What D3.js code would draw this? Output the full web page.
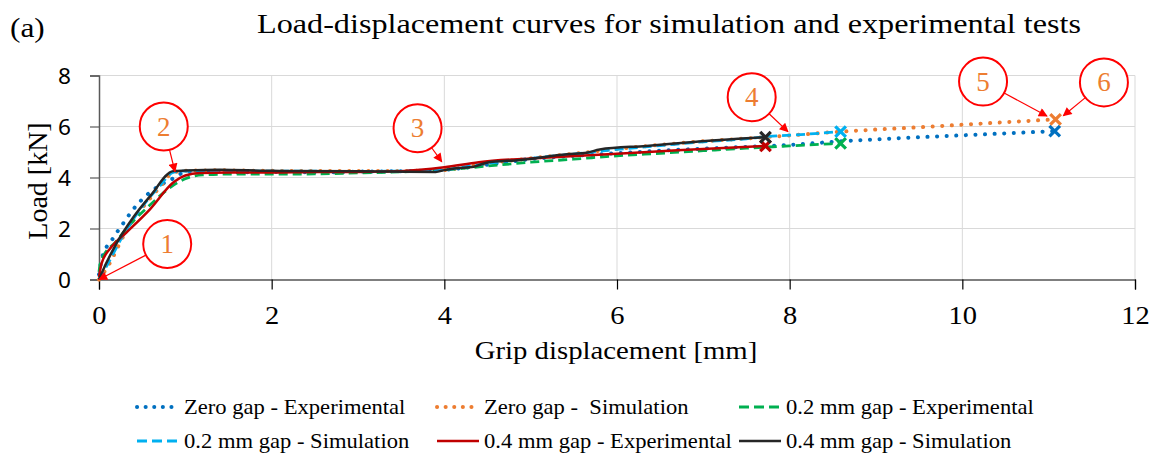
<!DOCTYPE html>
<html>
<head>
<meta charset="utf-8">
<script src="https://cdn.jsdelivr.net/npm/d3@7"></script>
<style>
  body { margin: 0; background: #fff; }
</style>
</head>
<body>
<div id="chart"></div>
<script>
// data: [grip displacement mm, load kN]
const zeroGapExp = [[0,0.2],[0.04,0.9],[0.15,1.55],[0.28,2.2],[0.42,2.85],[0.55,3.3],[0.71,3.7],[0.88,4.0],[1.0,4.22],[1.3,4.25],[1.6,4.2],[2.0,4.22],[2.5,4.2],[3.0,4.23],[3.5,4.25],[4.0,4.3],[4.5,4.5],[5.0,4.72],[5.5,4.85],[6.0,4.95],[6.5,5.05],[7.0,5.13],[7.5,5.2],[8.0,5.28],[8.6,5.42],[9.5,5.58],[10.3,5.7],[11.07,5.82]]
const zeroGapSim = [[0,0],[0.1,0.5],[0.3,1.8],[0.5,2.8],[0.7,3.6],[0.86,4.2],[1.0,4.26],[1.4,4.28],[2,4.26],[3,4.25],[3.9,4.27],[4.2,4.38],[4.5,4.55],[5,4.75],[5.5,4.93],[6,5.12],[6.5,5.28],[7,5.42],[7.5,5.53],[8,5.65],[8.6,5.8],[9.5,5.97],[10.3,6.13],[11.08,6.28]]
const gap02Exp = [[0,0.3],[0.02,0.7],[0.2,1.5],[0.4,2.3],[0.6,2.95],[0.8,3.55],[1.0,3.95],[1.2,4.1],[1.5,4.13],[2,4.13],[2.5,4.14],[3,4.18],[3.5,4.22],[4,4.3],[4.5,4.45],[5,4.6],[5.5,4.72],[6,4.85],[6.5,4.95],[7,5.05],[7.5,5.15],[8,5.24],[8.59,5.34]]
const gap02Sim = [[0,0],[0.1,0.6],[0.3,1.85],[0.5,2.85],[0.7,3.65],[0.86,4.2],[1.0,4.25],[2,4.25],[3,4.24],[3.9,4.27],[4.2,4.4],[4.5,4.55],[5,4.75],[5.5,4.92],[6,5.1],[6.5,5.25],[7,5.4],[7.5,5.52],[7.72,5.6],[8.2,5.7],[8.59,5.8]]
const gap04Exp = [[0,0.1],[0.03,0.63],[0.15,1.3],[0.32,1.85],[0.59,2.75],[0.86,3.8],[1.0,4.08],[1.17,4.18],[1.5,4.2],[2,4.2],[2.5,4.22],[3,4.22],[3.5,4.25],[4,4.4],[4.4,4.6],[5.2,4.78],[6,4.93],[6.7,5.07],[7.72,5.24]]
const gap04Sim = [[0,0],[0.03,0.24],[0.2,1.4],[0.4,2.45],[0.6,3.3],[0.86,4.25],[1.0,4.27],[1.4,4.3],[2,4.26],[3,4.25],[3.9,4.22],[4.0,4.29],[4.14,4.36],[4.34,4.42],[4.49,4.58],[4.88,4.69],[5.42,4.91],[5.65,4.97],[5.8,5.1],[6.34,5.24],[6.92,5.4],[7.5,5.54],[7.72,5.58]]

const seriesNames = ["Zero gap - Experimental", "Zero gap -  Simulation", "0.2 mm gap - Experimental",
                     "0.2 mm gap - Simulation", "0.4 mm gap - Experimental", "0.4 mm gap - Simulation"]
const xTicks = [0, 2, 4, 6, 8, 10, 12]
const yTicks = [0, 2, 4, 6, 8]

// numbered callouts: circle centre and arrow tip, in data units
const callouts = [
  {label: "1", cx: 0.79, cy: 1.39, tx: 0, ty: 0},
  {label: "2", cx: 0.75, cy: 6.0, tx: 0.88, ty: 4.23},
  {label: "3", cx: 3.69, cy: 5.93, tx: 3.97, ty: 4.62},
  {label: "4", cx: 7.56, cy: 7.15, tx: 7.98, ty: 5.8},
  {label: "5", cx: 10.24, cy: 7.76, tx: 10.98, ty: 6.41},
  {label: "6", cx: 11.64, cy: 7.73, tx: 11.17, ty: 6.42}
]

const width = 1158
const height = 457
const margin = {left: 99, right: 23, top: 75.5, bottom: 177.5}
const serif = "'Liberation Serif', 'Times New Roman', serif"
const stretch = 1.14 // the picture's text is a bit wider than tall

const svg = d3.select("#chart")
  .append("svg")
    .attr("width", width)
    .attr("height", height)

const x = d3.scaleLinear().domain([0, 12]).range([margin.left, width - margin.right])
const y = d3.scaleLinear().domain([0, 8]).range([height - margin.bottom, margin.top])

// put a text at x,y and widen it
function widen(sel, sx) {
  sel.each(function() {
    const t = d3.select(this)
    const tx = +t.attr("x") || 0, ty = +t.attr("y") || 0
    t.attr("x", 0).attr("y", 0)
     .attr("transform", `translate(${tx},${ty}) scale(${sx},1)`)
  })
}

// line styles per series
const styles = [
  {color: "#0070C0", dash: "0.1 9.5", cap: "round", w: 4},
  {color: "#ED7D31", dash: "0.1 9.5", cap: "round", w: 4},
  {color: "#00B050", dash: "9 5", cap: "butt", w: 2.8},
  {color: "#00B0F0", dash: "9 5", cap: "butt", w: 2.8},
  {color: "#C00000", dash: null, cap: "butt", w: 2.5},
  {color: "#262626", dash: null, cap: "butt", w: 2.5}
]
const allSeries = [zeroGapExp, zeroGapSim, gap02Exp, gap02Sim, gap04Exp, gap04Sim]

// gridlines
svg.append("g")
  .selectAll("line")
  .data(yTicks.slice(1))
  .join("line")
    .attr("x1", x(0)).attr("x2", x(12))
    .attr("y1", d => y(d)).attr("y2", d => y(d))
    .attr("stroke", "#d9d9d9").attr("stroke-width", 1)
svg.append("g")
  .selectAll("line")
  .data(xTicks.slice(1))
  .join("line")
    .attr("x1", d => x(d)).attr("x2", d => x(d))
    .attr("y1", y(0)).attr("y2", y(8))
    .attr("stroke", "#d9d9d9").attr("stroke-width", 1)

// axes
const xAxis = svg.append("g")
  .attr("transform", `translate(0,${y(0)})`)
  .call(d3.axisBottom(x).tickValues(xTicks).tickSize(10).tickPadding(18).tickFormat(d3.format("d")))
xAxis.select(".domain").attr("stroke", "#000").attr("stroke-width", 1.2)
xAxis.selectAll(".tick line").attr("stroke", "#000").attr("stroke-width", 1.2)
xAxis.selectAll("text")
  .attr("font-family", serif).attr("font-size", 25).attr("fill", "#000")
  .attr("dy", "0.66em")
  .call(widen, stretch)

const yAxis = svg.append("g")
  .attr("transform", `translate(${x(0)},0)`)
  .call(d3.axisLeft(y).tickValues(yTicks).tickSize(9).tickPadding(19).tickFormat(d3.format("d")))
yAxis.select(".domain").attr("stroke", "#595959").attr("stroke-width", 1.5)
yAxis.selectAll(".tick line").attr("stroke", "#595959").attr("stroke-width", 1.2)
yAxis.selectAll("text")
  .attr("font-family", "'Noto Sans', 'Open Sans', sans-serif").attr("font-size", 21).attr("fill", "#000")
  .attr("dy", "0.4em")
  .call(widen, 1.08)

// the curves
const line = d3.line()
  .x(d => x(d[0]))
  .y(d => y(d[1]))
  .curve(d3.curveMonotoneX)

allSeries.forEach((s, i) => {
  const st = styles[i]
  svg.append("path")
    .datum(s)
    .attr("d", line)
    .attr("fill", "none")
    .attr("stroke", st.color)
    .attr("stroke-width", st.w)
    .attr("stroke-linecap", st.cap)
    .attr("stroke-linejoin", "round")
    .attr("stroke-dasharray", st.dash)
})

// x marker on the last point of each curve
allSeries.forEach((s, i) => {
  const p = s[s.length - 1]
  svg.append("path")
    .attr("d", d3.symbol(d3.symbolX, 75)())
    .attr("transform", `translate(${x(p[0])},${y(p[1])})`)
    .attr("fill", "none")
    .attr("stroke", styles[i].color)
    .attr("stroke-width", 3.2)
})

// callouts with arrows
svg.append("defs").append("marker")
    .attr("id", "arrowhead")
    .attr("viewBox", "0 0 10 10")
    .attr("refX", 9).attr("refY", 5)
    .attr("markerWidth", 10).attr("markerHeight", 9)
    .attr("markerUnits", "userSpaceOnUse")
    .attr("orient", "auto")
  .append("path")
    .attr("d", "M0,0L10,5L0,10z")
    .attr("fill", "#FF0000")

const r = 24
callouts.forEach(c => {
  const cx = x(c.cx), cy = y(c.cy)
  const tx = x(c.tx), ty = y(c.ty)
  const len = Math.hypot(tx - cx, ty - cy)
  const sx = cx + (tx - cx) / len * r
  const sy = cy + (ty - cy) / len * r
  svg.append("line")
    .attr("x1", sx).attr("y1", sy)
    .attr("x2", tx).attr("y2", ty)
    .attr("stroke", "#FF0000").attr("stroke-width", 1.2)
    .attr("marker-end", "url(#arrowhead)")
  svg.append("circle")
    .attr("cx", cx).attr("cy", cy).attr("r", r)
    .attr("fill", "#fff").attr("stroke", "#FF0000").attr("stroke-width", 2)
  svg.append("text")
    .attr("x", cx).attr("y", cy + 9)
    .attr("text-anchor", "middle")
    .attr("font-family", serif).attr("font-size", 27)
    .attr("fill", "#ED7D31")
    .text(c.label)
})

// titles
svg.append("text")
  .attr("x", 10).attr("y", 37)
  .attr("font-family", serif).attr("font-size", 28)
  .text("(a)")
  .call(widen, 1.12)
svg.append("text")
  .attr("x", 669).attr("y", 33)
  .attr("text-anchor", "middle")
  .attr("font-family", serif).attr("font-size", 28)
  .text("Load-displacement curves for simulation and experimental tests")
  .call(widen, 1.15)
svg.append("text")
  .attr("x", 616).attr("y", 359)
  .attr("text-anchor", "middle")
  .attr("font-family", serif).attr("font-size", 25)
  .text("Grip displacement [mm]")
  .call(widen, 1.15)
svg.append("text")
  .attr("transform", `translate(47,181) rotate(-90)`)
  .attr("text-anchor", "middle")
  .attr("font-family", serif).attr("font-size", 28)
  .text("Load [kN]")

// legend, two rows of three
const legendX = [137, 437, 739]
const legendY = [407, 441]
seriesNames.forEach((name, i) => {
  const lx = legendX[i % 3], ly = legendY[Math.floor(i / 3)]
  const st = styles[i]
  svg.append("line")
    .attr("x1", lx).attr("x2", lx + 42)
    .attr("y1", ly).attr("y2", ly)
    .attr("stroke", st.color)
    .attr("stroke-width", st.w)
    .attr("stroke-linecap", st.cap)
    .attr("stroke-dasharray", st.dash ? (st.cap === "round" ? "0.1 8.5" : "10 5") : null)
  svg.append("text")
    .attr("x", lx + 47).attr("y", ly + 7)
    .attr("font-family", serif).attr("font-size", 20)
    .style("white-space", "pre")
    .text(name)
    .call(widen, 1.13)
})
</script>
</body>
</html>
